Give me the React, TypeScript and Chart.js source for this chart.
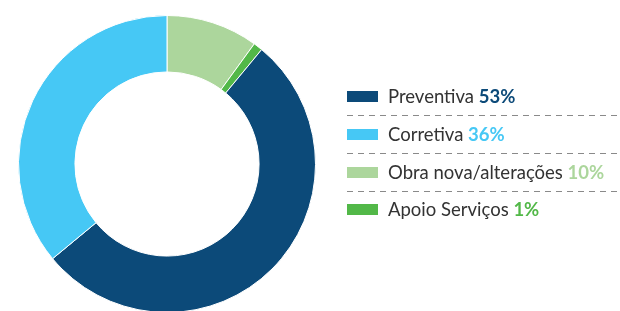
import React, { useEffect, useRef } from "react";
import { Chart, registerables } from "chart.js";

Chart.register(...registerables);

const categories = ["Obra nova/alterações", "Apoio Serviços", "Preventiva", "Corretiva"];
const values = [10, 1, 53, 36];
const colors = ["#acd69c", "#52b848", "#0c4a79", "#46c8f5"];
const legendOrder = [2, 3, 0, 1];
const percentLabels = ["10%", "1%", "53%", "36%"];

const legendPlugin = {
  id: "sideLegend",
  afterDraw(chart: any) {
    const ctx = chart.ctx;
    ctx.save();
    const x0 = 347;
    const rowY = [96, 134, 172, 209];
    const sepY = [115, 153, 191];
    ctx.strokeStyle = "#8a8a8a";
    ctx.lineWidth = 1;
    ctx.setLineDash([6, 5]);
    sepY.forEach((y) => {
      ctx.beginPath();
      ctx.moveTo(x0, y + 0.5);
      ctx.lineTo(620, y + 0.5);
      ctx.stroke();
    });
    ctx.setLineDash([]);
    legendOrder.forEach((idx, i) => {
      const y = rowY[i];
      ctx.fillStyle = colors[idx];
      ctx.fillRect(x0, y - 5, 31, 11);
      ctx.textBaseline = "middle";
      ctx.font = "18.5px Lato";
      ctx.fillStyle = "#333333";
      const label = categories[idx] + " ";
      ctx.fillText(label, 388, y + 1);
      const w = ctx.measureText(label).width;
      ctx.font = "bold 18.5px Lato";
      ctx.fillStyle = colors[idx];
      ctx.fillText(percentLabels[idx], 388 + w, y + 1);
    });
    ctx.restore();
  },
};

export default function App() {
  const ref = useRef<HTMLCanvasElement>(null);
  useEffect(() => {
    const chart = new Chart(ref.current!, {
      type: "doughnut",
      data: {
        labels: categories,
        datasets: [
          {
            data: values,
            backgroundColor: colors,
            borderColor: "#ffffff",
            borderWidth: 1,
          },
        ],
      },
      options: {
        animation: false,
        responsive: false,
        cutout: "62%",
        layout: { padding: { left: 18, right: 304, top: 15, bottom: 0 } },
        plugins: { legend: { display: false }, tooltip: { enabled: false } },
      },
      plugins: [legendPlugin],
    });
    return () => chart.destroy();
  }, []);
  return (
    <div style={{ position: "fixed", left: 0, top: 0, width: 620, height: 313, background: "#fff" }}>
      <canvas ref={ref} width={620} height={313} style={{ width: 620, height: 313 }} />
    </div>
  );
}
